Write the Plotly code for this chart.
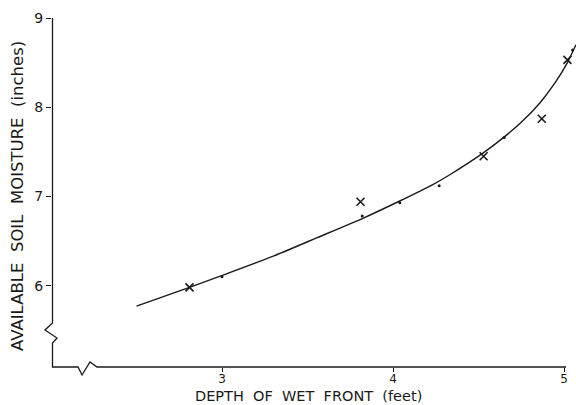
import plotly.graph_objects as go

# Measured points (crosses)
depth_obs = [2.81, 3.81, 4.53, 4.87, 5.02]
moisture_obs = [5.98, 6.94, 7.45, 7.87, 8.53]

# Points lying on the curve (small dots)
depth_dot = [3.00, 3.82, 4.04, 4.27, 4.65, 5.05]
moisture_dot = [6.10, 6.78, 6.93, 7.12, 7.66, 8.64]

# Fitted curve
depth_fit = [2.50, 2.81, 3.01, 3.30, 3.56, 3.83, 4.03, 4.23, 4.33, 4.53, 4.64, 4.75, 4.86, 4.95, 5.02, 5.07]
moisture_fit = [5.77, 5.98, 6.12, 6.33, 6.54, 6.76, 6.94, 7.13, 7.24, 7.49, 7.65, 7.83, 8.05, 8.28, 8.50, 8.70]

x_ticks = [3, 4, 5]
y_ticks = [6, 7, 8, 9]

W, H = 576, 405
ML, MR, MT, MB = 52, 0, 18, 38
PW, PH = W - ML - MR, H - MT - MB

FONT = "DejaVu Sans"
INK = "#1a1a1a"


def paper(px, py):
    return (px - ML) / PW, (H - MB - py) / PH


def path(points):
    parts = []
    for i, (px, py) in enumerate(points):
        xp, yp = paper(px, py)
        parts.append(("M" if i == 0 else "L") + f"{xp:.5f},{yp:.5f}")
    return " ".join(parts)


# Axis lines with break marks near the origin
axis_pts = [
    (52.5, 18), (52.5, 323), (45, 330), (57, 338), (52.5, 343), (52.5, 367),
    (78, 367), (82, 375), (90, 362), (97, 367), (566, 367),
]

fig = go.Figure()

fig.add_trace(go.Scatter(
    x=depth_fit, y=moisture_fit, mode="lines",
    line=dict(color=INK, width=1.4, shape="spline", smoothing=0.6),
    hoverinfo="skip", showlegend=False,
))
fig.add_trace(go.Scatter(
    x=depth_dot, y=moisture_dot, mode="markers",
    marker=dict(symbol="circle", size=3, color=INK),
    showlegend=False,
))
fig.add_trace(go.Scatter(
    x=depth_obs, y=moisture_obs, mode="markers",
    marker=dict(symbol="x-thin", size=8, line=dict(color=INK, width=1.6)),
    showlegend=False,
))

fig.add_shape(type="path", xref="paper", yref="paper", path=path(axis_pts),
              line=dict(color=INK, width=1.3), layer="above")

xl, _ = paper(17, 0)
_, yl = paper(0, 196)
xb, _ = paper(308, 0)
_, yb = paper(0, 396)

fig.add_annotation(text="AVAILABLE  SOIL  MOISTURE  (inches)", xref="paper", yref="paper",
                   x=xl, y=yl, textangle=-90, showarrow=False,
                   xanchor="center", yanchor="middle",
                   font=dict(family=FONT, size=16.5, color=INK))
fig.add_annotation(text="DEPTH  OF  WET  FRONT  (feet)", xref="paper", yref="paper",
                   x=xb, y=yb, showarrow=False, xanchor="center", yanchor="middle",
                   font=dict(family=FONT, size=14.5, color=INK))

fig.update_layout(
    width=W, height=H,
    margin=dict(l=ML, r=MR, t=MT, b=MB),
    paper_bgcolor="white", plot_bgcolor="white",
    font=dict(family=FONT, color=INK),
    xaxis=dict(range=[3 - 170 / 171, 3 - 170 / 171 + PW / 171], tickvals=x_ticks,
               showgrid=False, zeroline=False, showline=False,
               ticks="outside", ticklen=4, tickwidth=1.2, tickcolor=INK,
               ticklabelstandoff=-3,
               tickfont=dict(family=FONT, size=12, color=INK)),
    yaxis=dict(range=[9 - PH / 89.2, 9.0], tickvals=y_ticks,
               showgrid=False, zeroline=False, showline=False,
               ticks="outside", ticklen=5, tickwidth=1.2, tickcolor=INK,
               tickfont=dict(family=FONT, size=14, color=INK)),
)

fig.write_html("out.html")
